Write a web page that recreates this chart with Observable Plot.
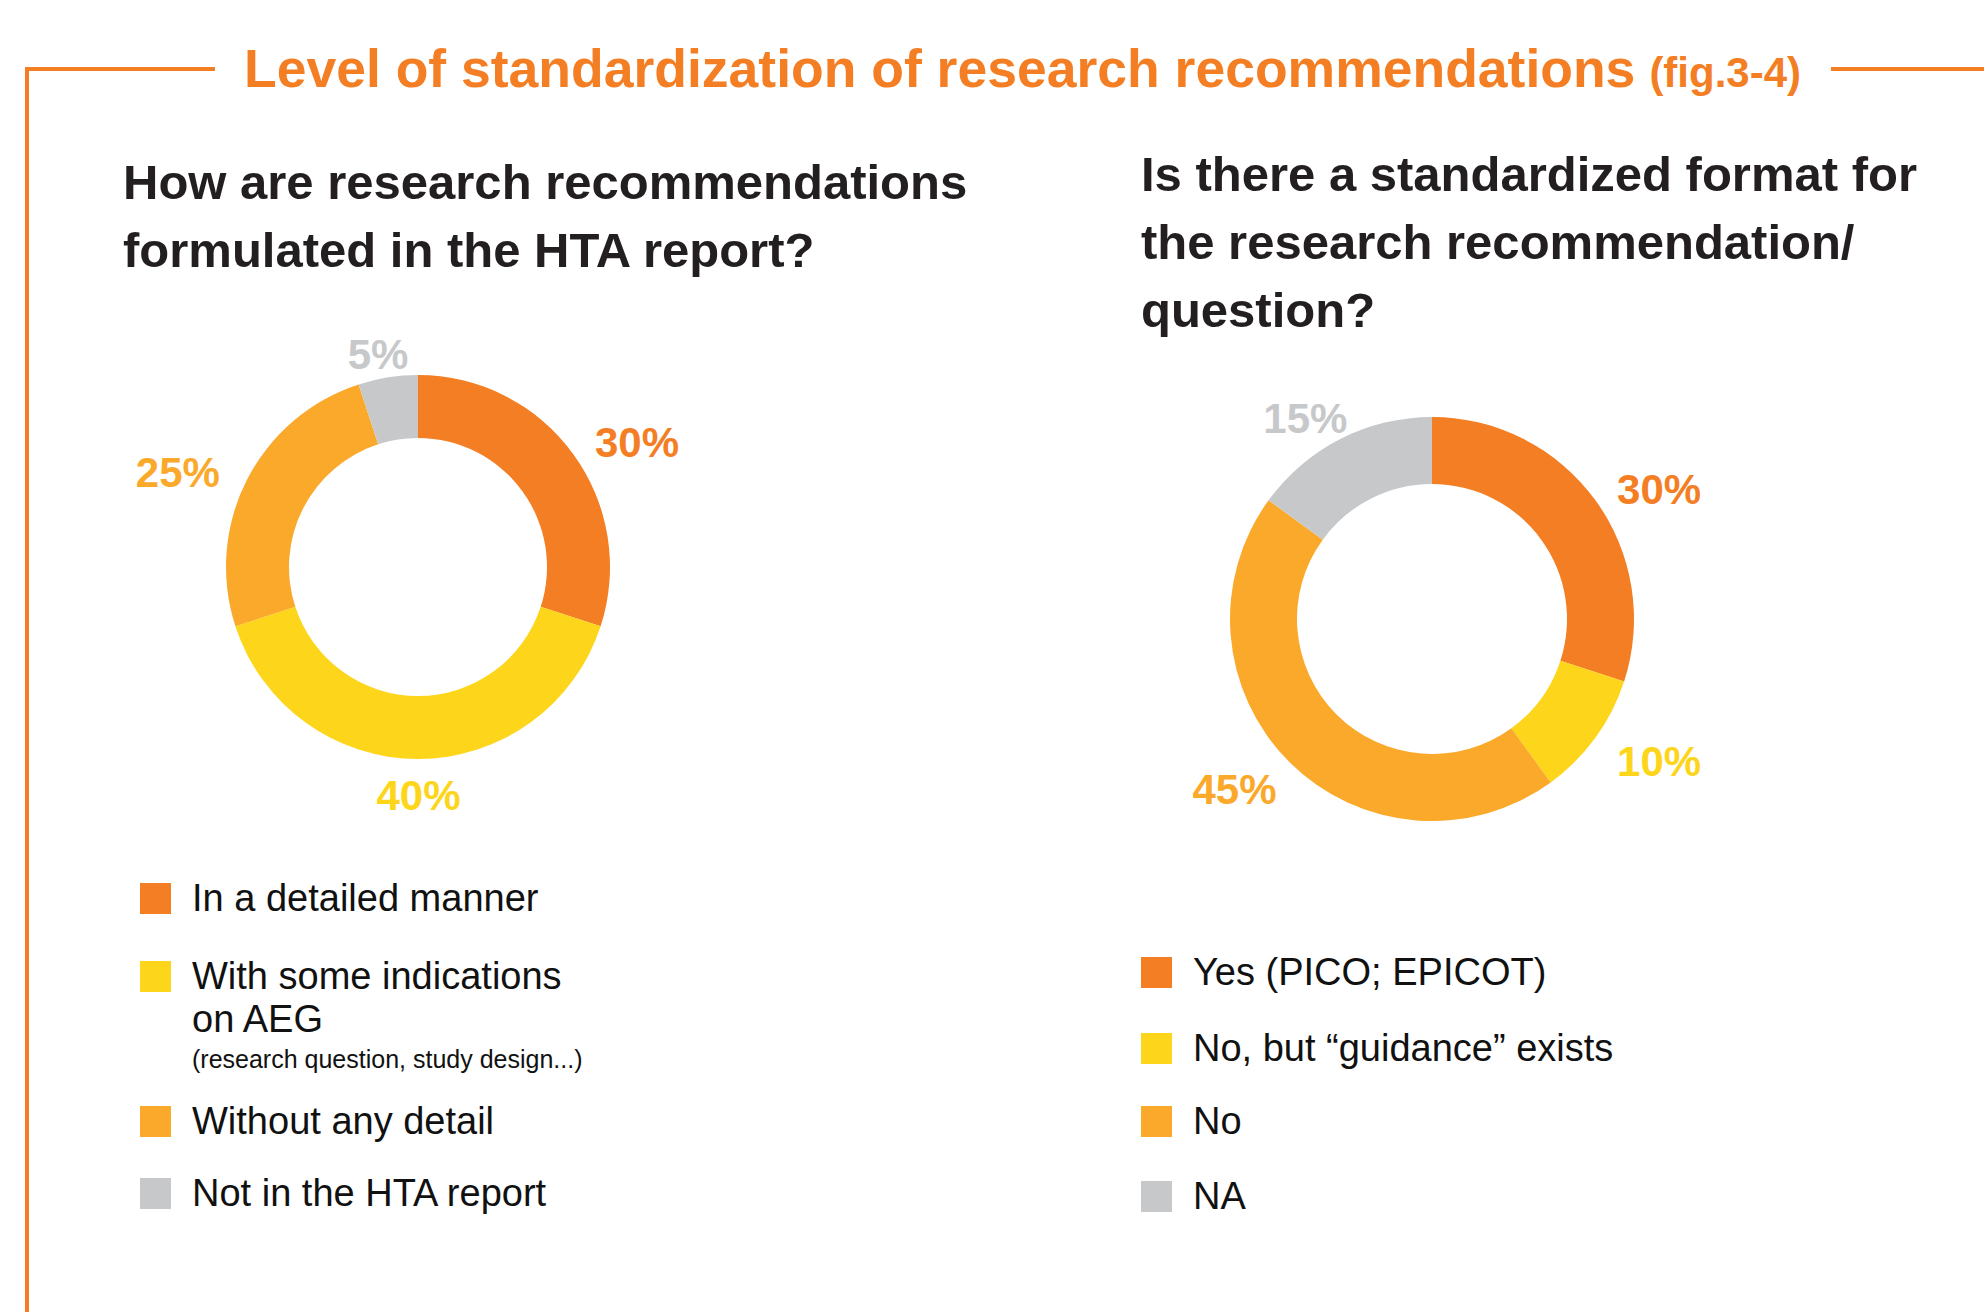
<!DOCTYPE html>
<html>
<head>
<meta charset="utf-8">
<script src="https://cdn.jsdelivr.net/npm/d3@7"></script>
<script src="https://cdn.jsdelivr.net/npm/@observablehq/plot@0.6"></script>
<style>
  html, body { margin: 0; padding: 0; background: #fff; }
  body { width: 1984px; height: 1312px; overflow: hidden; position: relative;
         font-family: "Liberation Sans", Arial, Helvetica, sans-serif; }
  .abs { position: absolute; }
  .frame { position: absolute; background: #f47e23; }
  .title { color: #f47e23; font-weight: bold; font-size: 53.5px; line-height: 53px; white-space: nowrap; }
  .title .fig { font-size: 42px; margin-left: 14px; }
  .question { color: #231f20; font-weight: bold; font-size: 49px; line-height: 68px; white-space: nowrap; }
  .row { position: absolute; }
  .swatch { position: absolute; left: 0; top: 6px; width: 31px; height: 31px; }
  .label { position: absolute; white-space: pre-line; font-size: 38px; line-height: 43px; color: #111; width: 760px; }
  .note { font-size: 25px; line-height: 37px; white-space: nowrap; }
</style>
</head>
<body>
<script>
// ---------- data ----------
const title = "Level of standardization of research recommendations";
const figLabel = "(fig.3-4)";

const leftQuestion = ["How are research recommendations", "formulated in the HTA report?"];
const leftCategories = ["In a detailed manner", "With some indications\non AEG", "Without any detail", "Not in the HTA report"];
const leftValues = [30, 40, 25, 5];
const leftNotes = [null, "(research question, study design...)", null, null];

const rightQuestion = ["Is there a standardized format for", "the research recommendation/", "question?"];
const rightCategories = ["Yes (PICO; EPICOT)", "No, but \u201cguidance\u201d exists", "No", "NA"];
const rightValues = [30, 10, 45, 15];

const sliceColors = ["#f47e23", "#fdd51a", "#faa92b", "#c7c8ca"];

// ---------- layout helpers ----------
const body = document.body;
function el(tag, cls, style, text) {
  const e = document.createElement(tag);
  if (cls) e.className = cls;
  if (style) Object.assign(e.style, style);
  if (text != null) e.textContent = text;
  body.appendChild(e);
  return e;
}

// frame lines
el("div", "frame", {left: "25px", top: "67px", width: "190px", height: "4px"});
el("div", "frame", {left: "1831px", top: "67px", width: "153px", height: "4px"});
el("div", "frame", {left: "25px", top: "67px", width: "4px", height: "1245px"});

// title
const t = el("div", "abs title", {left: "244px", top: "42px"}, title);
const fig = document.createElement("span");
fig.className = "fig";
fig.textContent = figLabel;
t.appendChild(fig);

// questions
el("div", "abs question", {left: "123px", top: "148px"}).innerHTML = leftQuestion.join("<br>");
el("div", "abs question", {left: "1141px", top: "140px"}).innerHTML = rightQuestion.join("<br>");

// ---------- donuts ----------
const canvas = document.createElement("canvas");
const ctx2d = canvas.getContext("2d");

function donut(categories, values, outer, inner, W, H) {
  const data = categories.map((c, i) => ({category: c, value: values[i]}));
  const fs = 42;
  ctx2d.font = `bold ${fs}px "Liberation Sans", Arial, sans-serif`;

  const arcRender = (index, scales, v, dims) => {
    const g = d3.create("svg:g").attr("transform", `translate(${dims.width / 2},${dims.height / 2})`);
    const arc = d3.arc().innerRadius(inner).outerRadius(outer);
    for (const i of index) {
      g.append("path")
        .attr("d", arc({startAngle: v.x1[i], endAngle: v.x2[i]}))
        .attr("fill", v.fill[i]);
    }
    return g.node();
  };

  const labelRender = (index, scales, v, dims, context, next) => {
    const cx = dims.width / 2, cy = dims.height / 2;
    const X = new Float64Array(v.x.length), Y = new Float64Array(v.x.length);
    for (const i of index) {
      const a = v.x[i];
      const w = ctx2d.measureText(String(v.text[i])).width;
      const Rx = outer + 36 + w / 2;
      const Ry = outer + 30;
      X[i] = cx + Rx * Math.sin(a);
      Y[i] = cy - Ry * Math.cos(a) + 7;
    }
    return next(index, scales, {...v, x: X, y: Y}, dims, context);
  };

  return Plot.plot({
    width: W, height: H, margin: 0,
    style: {background: "transparent", overflow: "visible"},
    x: {domain: [0, 100], range: [0, 2 * Math.PI], axis: null},
    color: {domain: categories, range: sliceColors},
    marks: [
      Plot.barX(data, {...Plot.stackX({x: "value", fill: "category"}), render: arcRender}),
      Plot.text(data, {
        ...Plot.stackX({x: "value", fill: "category", text: d => d.value + "%"}),
        fontSize: fs, fontWeight: "bold",
        fontFamily: "'Liberation Sans', Arial, sans-serif",
        render: labelRender
      })
    ]
  });
}

const W = 720, H = 600;
const leftChart = donut(leftCategories, leftValues, 192, 129, W, H);
Object.assign(leftChart.style, {position: "absolute", left: (418 - W / 2) + "px", top: (567 - H / 2) + "px"});
body.appendChild(leftChart);

const rightChart = donut(rightCategories, rightValues, 202, 135, W, H);
Object.assign(rightChart.style, {position: "absolute", left: (1432 - W / 2) + "px", top: (619 - H / 2) + "px"});
body.appendChild(rightChart);

// ---------- legends ----------
function legend(categories, notes, left, centers) {
  categories.forEach((c, i) => {
    const row = el("div", "row", {left: left + "px", top: (centers[i] - 21.5) + "px"});
    const sw = document.createElement("div");
    sw.className = "swatch";
    sw.style.background = sliceColors[i];
    row.appendChild(sw);
    const lab = document.createElement("div");
    lab.className = "label";
    lab.style.left = "52px";
    lab.textContent = c;
    if (notes && notes[i]) {
      const n = document.createElement("div");
      n.className = "note";
      n.textContent = notes[i];
      lab.appendChild(n);
    }
    row.appendChild(lab);
  });
}
legend(leftCategories, leftNotes, 140, [898, 976, 1121, 1193]);
legend(rightCategories, null, 1141, [972, 1048, 1121, 1196]);
</script>
</body>
</html>
